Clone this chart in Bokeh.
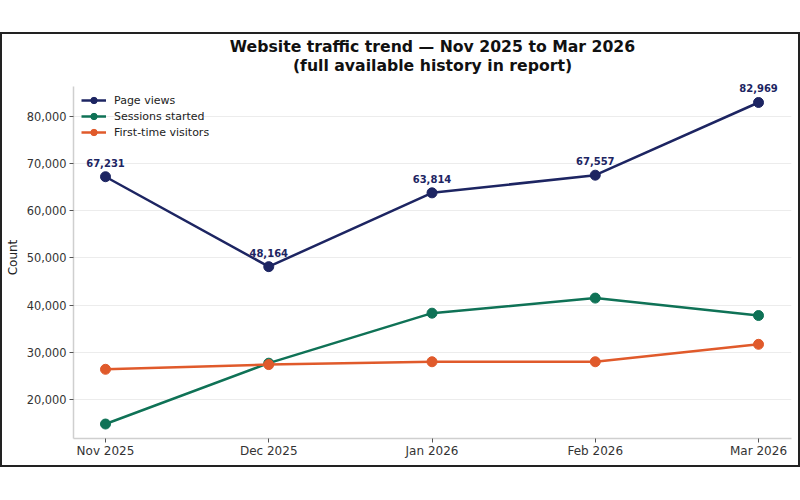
from bokeh.plotting import figure
from bokeh.models import (ColumnDataSource, Range1d, FixedTicker, NumeralTickFormatter,
                          LabelSet, Title)
from bokeh.core.properties import value
from bokeh.embed import file_html
from bokeh.resources import INLINE

# Monthly traffic figures
months = ["Nov 2025", "Dec 2025", "Jan 2026", "Feb 2026", "Mar 2026"]
page_views = [67231, 48164, 63814, 67557, 82969]
sessions_started = [14800, 27700, 38300, 41500, 37800]
first_time_visitors = [26400, 27400, 28000, 28000, 31700]
y_ticks = [20000, 30000, 40000, 50000, 60000, 70000, 80000]

NAVY = "#1d2562"
GREEN = "#0f7256"
ORANGE = "#e05a2b"
FONT = "DejaVu Sans"

x = list(range(len(months)))
Y_LOW, Y_AXIS_TOP, Y_HIGH = 11730, 86360, 88480

p = figure(width=800, height=435, output_backend="svg", toolbar_location=None,
           x_range=Range1d(-0.196, len(months) - 1 + 0.202),
           y_range=Range1d(Y_LOW, Y_HIGH),
           min_border_left=71, min_border_right=11,
           min_border_top=42, min_border_bottom=31)
p.margin = (32, 0, 0, 0)
p.styles = {"border": "2px solid #222222"}
p.outline_line_color = None
p.background_fill_color = "white"
p.border_fill_color = "white"

# two centred title lines, stacked upward from the frame
p.title.text = ""
title_style = dict(align="center", text_font=FONT, text_font_size="15.7px",
                   text_font_style="bold", text_color="#111111")
p.add_layout(Title(text="(full available history in report)", standoff=0,
                   vertical_align="top", **title_style), "above")
p.add_layout(Title(text="Website traffic trend \u2014 Nov 2025 to Mar 2026", standoff=0,
                   vertical_align="bottom", **title_style), "above")

series = [
    ("Page views", page_views, NAVY),
    ("Sessions started", sessions_started, GREEN),
    ("First-time visitors", first_time_visitors, ORANGE),
]
for name, vals, color in series:
    src = ColumnDataSource(dict(x=x, y=vals))
    p.line("x", "y", source=src, line_color=color, line_width=2.5, legend_label=name)
    p.scatter("x", "y", source=src, size=10, fill_color=color, line_color=color,
              legend_label=name)

# value labels over the page-view points
lab_src = ColumnDataSource(dict(x=x, y=page_views, t=[f"{v:,}" for v in page_views]))
p.add_layout(LabelSet(x="x", y="y", text="t", source=lab_src, y_offset=14,
                      text_align="center", text_baseline="middle",
                      text_font=value(FONT), text_font_size=value("10px"),
                      text_font_style="bold", text_color=NAVY))

# axes
p.xaxis.ticker = FixedTicker(ticks=x)
p.xaxis.major_label_overrides = {i: m for i, m in enumerate(months)}
p.yaxis.ticker = FixedTicker(ticks=y_ticks)
p.yaxis.formatter = NumeralTickFormatter(format="0,0")
p.yaxis.bounds = (Y_LOW, Y_AXIS_TOP)
p.yaxis.axis_label = "Count"
for ax in (p.xaxis[0], p.yaxis[0]):
    ax.axis_line_color = "#cfcfcf"
    ax.axis_line_width = 1.5
    ax.major_tick_line_color = "#555555"
    ax.major_tick_in = 0
    ax.major_tick_out = 4
    ax.minor_tick_line_color = None
    ax.major_label_text_font = FONT
    ax.major_label_text_color = "#333333"
    ax.axis_label_text_font = FONT
    ax.axis_label_text_font_style = "normal"
    ax.axis_label_text_color = "#222222"
p.xaxis.major_label_text_font_size = "12px"
p.yaxis.major_label_text_font_size = "11.4px"
p.yaxis.axis_label_text_font_size = "12px"
p.xaxis.major_label_standoff = 1
p.yaxis.major_label_standoff = 3
p.yaxis.axis_label_standoff = 4

p.xgrid.grid_line_color = None
p.ygrid.grid_line_color = "#ececec"
p.ygrid.grid_line_width = 1

leg = p.legend[0]
leg.location = (8, 298)
leg.border_line_color = None
leg.background_fill_alpha = 0
leg.margin = 0
leg.padding = 6
leg.spacing = 0
leg.label_height = 16
leg.glyph_height = 16
leg.glyph_width = 25
leg.label_standoff = 8
leg.label_text_font = FONT
leg.label_text_font_size = "11px"
leg.label_text_color = "#222222"

open("out.html", "w").write(file_html(p, INLINE))
